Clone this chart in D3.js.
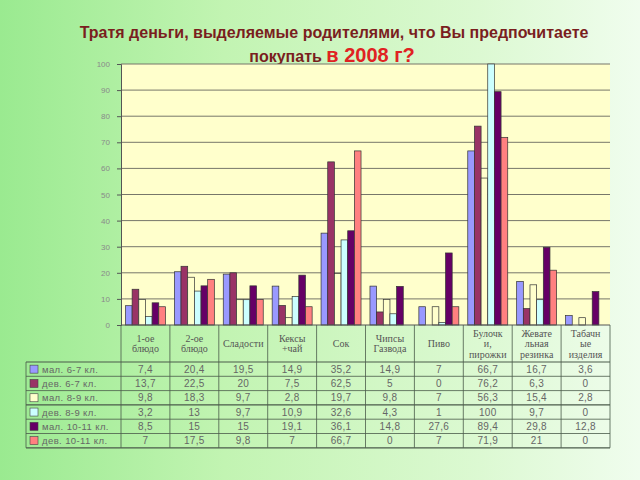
<!DOCTYPE html>
<html><head><meta charset="utf-8">
<script src="https://cdn.jsdelivr.net/npm/d3@7"></script>
<style>html,body{margin:0;padding:0;}svg{display:block;}</style>
</head><body>
<script>
const categories = ["1-ое\nблюдо","2-ое\nблюдо","Сладости","Кексы\n+чай","Сок","Чипсы\nГазвода","Пиво","Булочк\nи,\nпирожки","Жевате\nльная\nрезинка","Табачн\nые\nизделия"];
const seriesNames = ["мал. 6-7 кл.","дев. 6-7 кл.","мал. 8-9 кл.","дев. 8-9 кл.","мал. 10-11 кл.","дев. 10-11 кл."];
const seriesColors = ["#9999FF","#993366","#FFFFCC","#CCFFFF","#660066","#FF8080"];
const boys67  = [7.4, 20.4, 19.5, 14.9, 35.2, 14.9, 7, 66.7, 16.7, 3.6];
const girls67 = [13.7, 22.5, 20, 7.5, 62.5, 5, 0, 76.2, 6.3, 0];
const boys89  = [9.8, 18.3, 9.7, 2.8, 19.7, 9.8, 7, 56.3, 15.4, 2.8];
const girls89 = [3.2, 13, 9.7, 10.9, 32.6, 4.3, 1, 100, 9.7, 0];
const boys1011  = [8.5, 15, 15, 19.1, 36.1, 14.8, 27.6, 89.4, 29.8, 12.8];
const girls1011 = [7, 17.5, 9.8, 7, 66.7, 0, 7, 71.9, 21, 0];
const seriesValues = [boys67, girls67, boys89, girls89, boys1011, girls1011];
const yTicks = [0,10,20,30,40,50,60,70,80,90,100];

(function(){
const W = 640, H = 480;
const svg = d3.select("body").append("svg").attr("width", W).attr("height", H);
const defs = svg.append("defs");
const g1 = defs.append("linearGradient").attr("id","bg").attr("x1","0").attr("x2","1").attr("y1","0").attr("y2","0");
g1.append("stop").attr("offset","0").attr("stop-color","#9aea90");
g1.append("stop").attr("offset","0.35").attr("stop-color","#c2f4b2");
g1.append("stop").attr("offset","0.75").attr("stop-color","#dcf9d2");
g1.append("stop").attr("offset","1").attr("stop-color","#f0fdee");
svg.append("rect").attr("width",W).attr("height",H).attr("fill","url(#bg)");

// Title
svg.append("text").attr("x", 334).attr("y", 38).attr("text-anchor","middle")
  .attr("font-family","Liberation Sans, Arial, sans-serif").attr("font-weight","bold")
  .attr("font-size", 16).attr("fill","#7a1e1e")
  .text("Тратя деньги, выделяемые родителями, что Вы предпочитаете");
const t2 = svg.append("text").attr("x", 332).attr("y", 62).attr("text-anchor","middle")
  .attr("font-family","Liberation Sans, Arial, sans-serif").attr("font-weight","bold");
t2.append("tspan").attr("font-size", 16).attr("fill","#7a1e1e").text("покупать  ");
t2.append("tspan").attr("font-size", 20).attr("fill","#e02222").text("в 2008 г?");

const pLeft = 121, pRight = 610, pTop = 64, pBottom = 325;
const x0 = d3.scaleBand().domain(categories).range([pLeft, pRight]).padding(0);
const x1 = d3.scaleBand().domain(seriesNames).range([0, x0.bandwidth()]).paddingInner(0).paddingOuter(0.67);
const y = d3.scaleLinear().domain([0, 100]).range([pBottom, pTop]);

svg.append("rect").attr("x", pLeft).attr("y", pTop).attr("width", pRight-pLeft).attr("height", pBottom-pTop).attr("fill","#FFFFCC");

// grid
svg.append("g").selectAll("line").data(yTicks.slice(1)).join("line")
  .attr("x1", pLeft).attr("x2", pRight).attr("y1", d=>y(d)).attr("y2", d=>y(d))
  .attr("stroke","#77776a").attr("stroke-width",1);

// y axis
const yAxis = d3.axisLeft(y).tickValues(yTicks).tickSize(4).tickPadding(7);
const ya = svg.append("g").attr("transform",`translate(${pLeft},0)`).call(yAxis);
ya.select(".domain").attr("stroke","#555");
ya.selectAll(".tick line").attr("stroke","#555");
ya.selectAll("text").attr("font-family","Liberation Sans, Arial, sans-serif").attr("font-size",8).attr("fill","#8a8a8a");

// bars
const groups = svg.append("g").selectAll("g").data(categories).join("g")
  .attr("transform", d=>`translate(${x0(d)},0)`);
groups.selectAll("rect").data((c,ci)=>seriesNames.map((s,si)=>({s, si, v: seriesValues[si][ci]})))
  .join("rect")
  .attr("x", d=>x1(d.s)).attr("width", x1.bandwidth())
  .attr("y", d=>y(d.v)).attr("height", d=>y(0)-y(d.v))
  .attr("fill", d=>seriesColors[d.si]).attr("stroke","#333").attr("stroke-width",0.7);

svg.append("line").attr("x1",pLeft).attr("x2",pRight).attr("y1",pBottom).attr("y2",pBottom).attr("stroke","#555");

// table
const tableLeft = 26, headerBottom = 362, rowH = 14.3;
const rowY = i => headerBottom + i*rowH;
const tbl = svg.append("g");
const lineColor = "#4a5a4a";
const colEdges = categories.map(c=>x0(c)).concat([pRight]);
tbl.selectAll("line.v").data(colEdges).join("line").attr("class","v")
  .attr("x1", d=>d).attr("x2", d=>d).attr("y1", pBottom).attr("y2", rowY(6))
  .attr("stroke", lineColor).attr("stroke-width",0.8);
tbl.append("line").attr("x1",tableLeft).attr("x2",tableLeft).attr("y1",headerBottom).attr("y2",rowY(6))
  .attr("stroke", lineColor).attr("stroke-width",0.8);
tbl.selectAll("line.h").data(d3.range(7)).join("line").attr("class","h")
  .attr("x1", tableLeft).attr("x2", pRight).attr("y1", d=>rowY(d)).attr("y2", d=>rowY(d))
  .attr("stroke", lineColor).attr("stroke-width", d=> (d===0||d===3||d===6)?1.2:0.8);

categories.forEach(c=>{
  const lines = c.split("\n");
  const cx = x0(c) + x0.bandwidth()/2;
  const cy = (pBottom + headerBottom)/2;
  const lh = 10.5;
  const t = tbl.append("text").attr("text-anchor","middle")
    .attr("font-family","Liberation Serif, Times New Roman, serif").attr("font-size",10).attr("fill","#555");
  lines.forEach((l,i)=>{
    t.append("tspan").attr("x", cx).attr("y", cy + (i - (lines.length-1)/2)*lh + 3.5).text(l);
  });
});

const fmt = v => String(v).replace(".", ",");
seriesNames.forEach((s,si)=>{
  const yc = rowY(si) + rowH/2;
  tbl.append("rect").attr("x", 30).attr("y", yc-4).attr("width",8).attr("height",8)
    .attr("fill", seriesColors[si]).attr("stroke","#444").attr("stroke-width",0.6);
  tbl.append("text").attr("x", 42).attr("y", yc+3.5).attr("font-family","Liberation Sans, Arial, sans-serif")
    .attr("font-size",9.5).attr("fill","#666").attr("letter-spacing",0.4).text(s);
  categories.forEach((c,ci)=>{
    tbl.append("text").attr("x", x0(c)+x0.bandwidth()/2).attr("y", yc+3.5).attr("text-anchor","middle")
      .attr("font-family","Liberation Sans, Arial, sans-serif").attr("font-size",10).attr("fill","#666")
      .attr("letter-spacing",0.3)
      .text(fmt(seriesValues[si][ci]));
  });
});
})();
</script>
</body></html>
